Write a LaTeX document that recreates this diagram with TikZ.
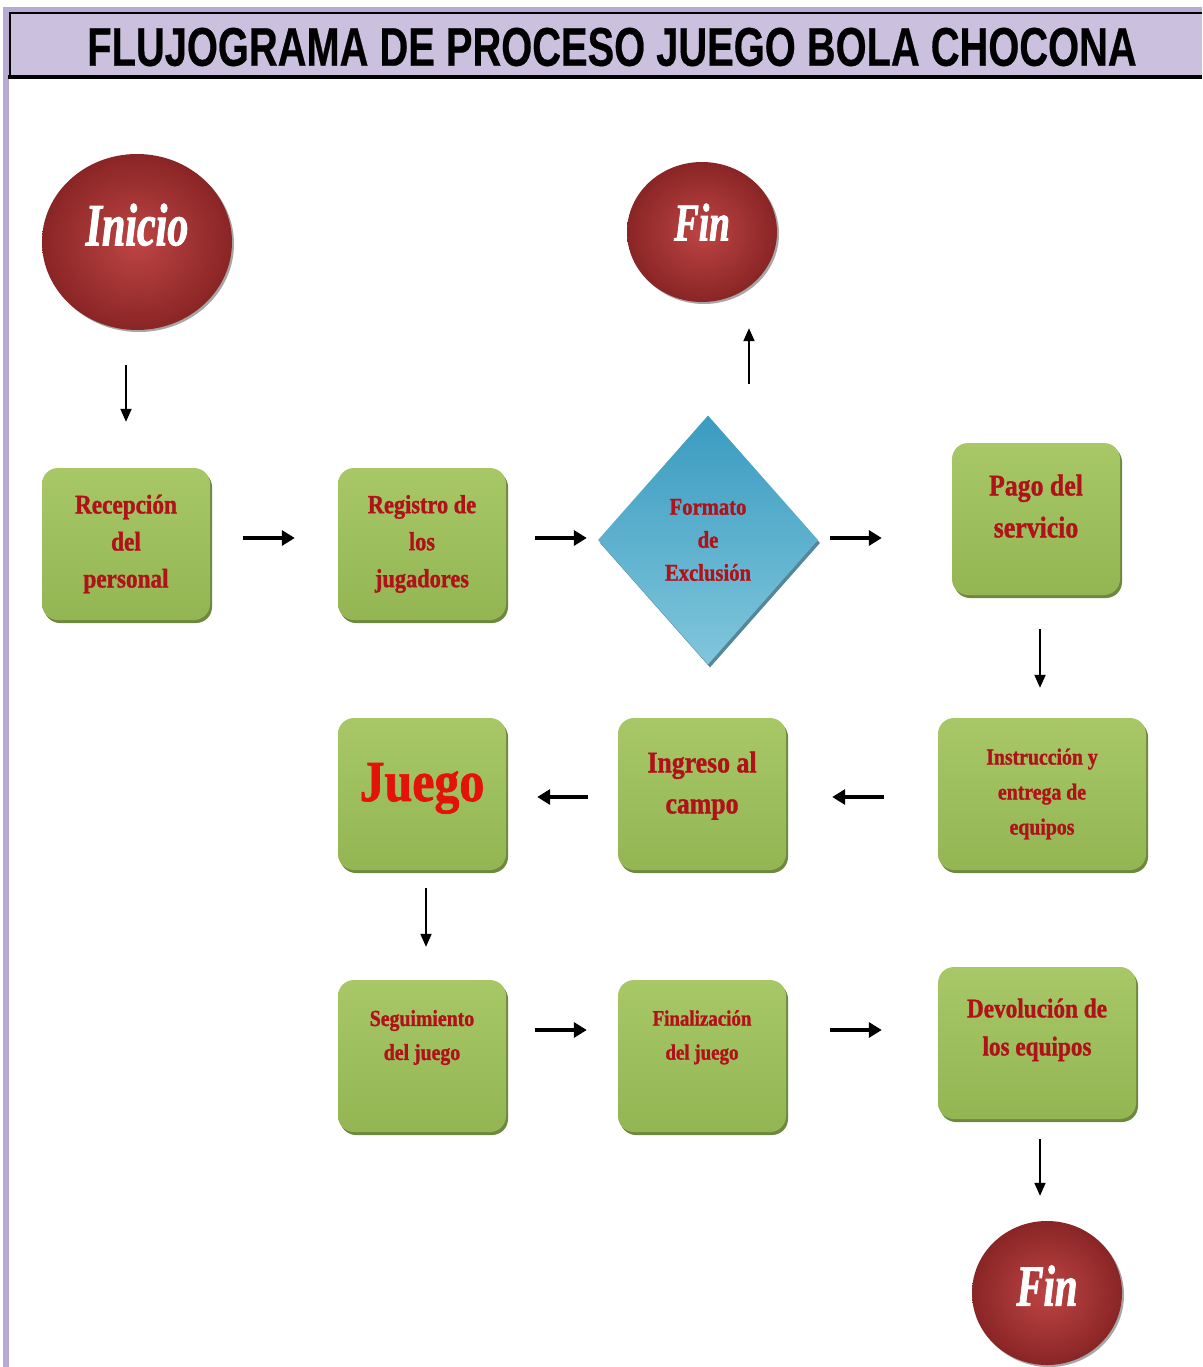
\documentclass[tikz,border=0pt]{standalone}
\usepackage{fontspec}
\usetikzlibrary{shapes.geometric,arrows.meta,shadows,calc}
\setmainfont{Liberation Serif}
\newfontfamily\bxf[FakeStretch=0.86,FakeBold=1.2]{Liberation Serif Bold}
\newfontfamily\cirf[FakeStretch=0.7,FakeBold=1.5]{Liberation Serif Bold Italic}
\newfontfamily\ttlf[FakeBold=0.6]{Liberation Sans Bold}
\definecolor{lav}{HTML}{CBC0DE}
\definecolor{lavB}{HTML}{B9AAD3}
\definecolor{gtop}{HTML}{A8C868}
\definecolor{gbot}{HTML}{93B552}
\definecolor{gshad}{HTML}{5F7D2B}
\definecolor{tred}{HTML}{B0121A}
\definecolor{jred}{HTML}{E3120B}
\definecolor{cin}{HTML}{BD4544}
\definecolor{cout}{HTML}{8A2525}
\definecolor{dtop}{HTML}{3A9BC0}
\definecolor{dbot}{HTML}{80C6DC}
\definecolor{dshad}{HTML}{2B6A80}
\newcommand\lft[1]{\rule[-#1pt]{0pt}{0pt}}
\begin{document}
\begin{tikzpicture}[x=1pt,y=-1pt,
  fs/.style 2 args={font=\bxf\fontsize{#1}{#2}\selectfont},
  cf/.style={font=\cirf\fontsize{#1}{#1}\selectfont},
  box/.style={rectangle, rounded corners=16pt, minimum width=168pt, minimum height=152pt,
    inner sep=0pt, top color=gtop, bottom color=gbot, text=tred, align=center,
    drop shadow={shadow xshift=2pt, shadow yshift=-3pt, fill=gshad, opacity=0.9}},
  circ/.style={ellipse, inner sep=0pt, inner color=cin, outer color=cout, text=white,
    drop shadow={shadow xshift=2pt, shadow yshift=-2pt, fill=black, opacity=0.35}},
  dia/.style={diamond, inner sep=0pt, minimum width=220pt, minimum height=249pt,
    top color=dtop, bottom color=dbot, text=tred, align=center,
    drop shadow={shadow xshift=2pt, shadow yshift=-3pt, fill=dshad, opacity=0.8}},
  harr/.style={line width=3.5pt, -{Triangle[length=13pt,width=15pt]}},
  varr/.style={line width=2pt, -{Triangle[length=13pt,width=11pt]}},
  ttl/.style={inner sep=0pt, text=black}
]
\useasboundingbox (0,0) rectangle (1202,1367);
\fill[white] (0,0) rectangle (1202,1367);
% frame
\fill[lavB] (3,7) rectangle (9,1367);
\fill[lavB] (3,7) rectangle (1202,13);
\fill[lav] (10,13) rectangle (1202,77);
\draw[line width=2pt] (1202,13) -- (10,13) -- (10,78);
\draw[line width=4pt] (8,77) -- (1202,77);
\node[ttl] (title) at (612,47) {\resizebox{1049pt}{38pt}{\ttlf FLUJOGRAMA DE PROCESO JUEGO BOLA CHOCONA}};
% terminals
\node[circ, cf=60, minimum width=190pt, minimum height=176pt] (ini) at (137,242) {Inicio\lft{35}};
\node[circ, cf=53, minimum width=150pt, minimum height=140pt] (fin1) at (702,232) {Fin\lft{20}};
\node[circ, cf=58, minimum width=150pt, minimum height=144pt] (fin2) at (1047,1293) {Fin\lft{15}};
% process boxes
\node[box, fs={27}{37}] (rec) at (126,544) {Recepción\\del\\personal};
\node[box, fs={26}{37}] (reg) at (422,544) {Registro de\\los\\jugadores};
\node[dia, fs={24}{33}] (dia) at (708,540) {Formato\\de\\Exclusión};
\node[box, fs={30}{42}] (pago) at (1036,519) {Pago del\\servicio\lft{26}};
\node[box, fs={23}{35}, minimum width=208pt] (ins) at (1042,794) {Instrucción y\\entrega de\\equipos};
\node[box, fs={30}{41}] (ing) at (702,794) {Ingreso al\\campo\lft{23}};
\node[box, fs={58}{60}, text=jred] (jue) at (422,794) {Juego\lft{24}};
\node[box, fs={23}{34}] (seg) at (422,1056) {Seguimiento\\del juego\lft{42}};
\node[box, fs={22}{34}] (fnz) at (702,1056) {Finalización\\del juego\lft{42}};
\node[box, fs={27}{38}, minimum width=198pt] (dev) at (1037,1043) {Devolución de\\los equipos\lft{32}};
% connectors
\draw[varr, shorten <=35pt, shorten >=46pt] (ini.south -| rec.north) -- (rec.north);
\draw[harr, shorten <=33pt, shorten >=43pt] ([yshift=6pt]rec.east) -- ([yshift=6pt]reg.west);
\draw[harr, shorten <=29pt, shorten >=11pt] ([yshift=6pt]reg.east) -- ([yshift=6pt]reg.east -| dia.west);
\draw[harr, shorten <=12pt, shorten >=70pt] ([yshift=2pt]dia.east) -- ([yshift=2pt]dia.east -| pago.west);
\draw[varr, shorten <=31pt, shorten >=26pt] ([xshift=41pt]dia.north) -- ([xshift=47pt]fin1.south);
\draw[varr, shorten <=34pt, shorten >=30pt] ([xshift=4pt]pago.south) -- ([xshift=-2pt]ins.north);
\draw[harr, shorten <=54pt, shorten >=46pt] ([yshift=-3pt]ins.west) -- ([yshift=-3pt]ing.east);
\draw[harr, shorten <=30pt, shorten >=31pt] ([yshift=-3pt]ing.west) -- ([yshift=-3pt]jue.east);
\draw[varr, shorten <=18pt, shorten >=33pt] ([xshift=4pt]jue.south) -- ([xshift=4pt]seg.north);
\draw[harr, shorten <=29pt, shorten >=31pt] ([yshift=26pt]seg.east) -- ([yshift=26pt]fnz.west);
\draw[harr, shorten <=44pt, shorten >=56pt] ([yshift=26pt]fnz.east) -- ([yshift=13pt]dev.west);
\draw[varr, shorten <=20pt, shorten >=25pt] ([xshift=3pt]dev.south) -- ([xshift=-7pt]fin2.north);
\end{tikzpicture}
\end{document}
